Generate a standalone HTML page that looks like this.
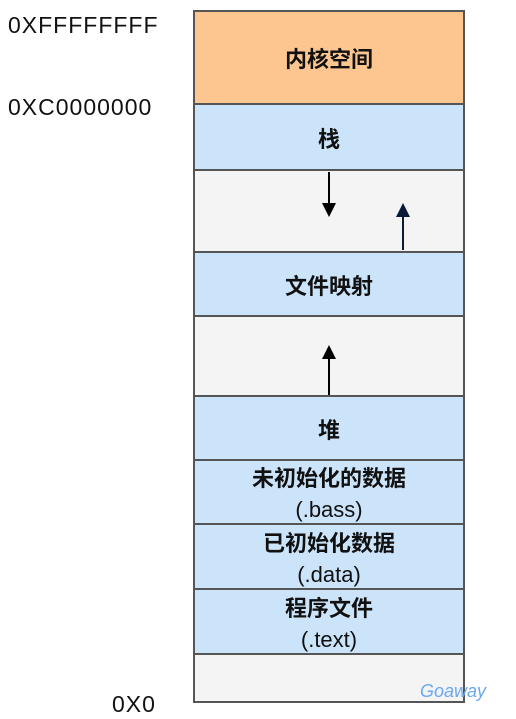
<!DOCTYPE html>
<html><head><meta charset="utf-8"><style>
body{margin:0;width:516px;height:719px;background:#fff;position:relative;overflow:hidden;font-family:"Liberation Sans","Noto Sans CJK SC",sans-serif}
.b{position:absolute;left:193px;width:272px;border:2px solid #555;box-sizing:border-box;display:flex;flex-direction:column;align-items:center;justify-content:center;font-weight:bold;font-size:22px;color:#111;line-height:31px;text-align:center;padding-top:4px}
.o{background:#fdc590}.bl{background:#cce4fa}.g{background:#f4f4f4}
.l{position:absolute;font-size:23px;color:#111;letter-spacing:1px}
</style></head><body>
<div class="l" style="left:8px;top:12px">0XFFFFFFFF</div>
<div class="l" style="left:8px;top:94px">0XC0000000</div>
<div class="l" style="left:112px;top:691px">0X0</div>
<div class="b o" style="top:10px;height:95px">内核空间</div>
<div class="b bl" style="top:103px;height:68px">栈</div>
<div class="b g" style="top:169px;height:84px"></div>
<div class="b bl" style="top:251px;height:66px">文件映射</div>
<div class="b g" style="top:315px;height:82px"></div>
<div class="b bl" style="top:395px;height:66px">堆</div>
<div class="b bl" style="top:459px;height:66px;font-weight:normal"><b>未初始化的数据</b><span>(.bass)</span></div>
<div class="b bl" style="top:523px;height:67px;font-weight:normal"><b>已初始化数据</b><span>(.data)</span></div>
<div class="b bl" style="top:588px;height:67px;font-weight:normal"><b>程序文件</b><span>(.text)</span></div>
<div class="b g" style="top:653px;height:50px"></div>
<svg width="516" height="719" style="position:absolute;left:0;top:0">
<line x1="329" y1="172" x2="329" y2="206" stroke="#000" stroke-width="2"/>
<polygon points="322,203 336,203 329,217" fill="#000"/>
<line x1="403" y1="250" x2="403" y2="214" stroke="#0a1a3a" stroke-width="2"/>
<polygon points="396,217 410,217 403,203" fill="#0a1a3a"/>
<line x1="329" y1="395" x2="329" y2="356" stroke="#000" stroke-width="2"/>
<polygon points="322,359 336,359 329,345" fill="#000"/>
<text x="420" y="697" font-family="Liberation Sans" font-style="italic" font-size="18" fill="#6aa8f0">Goaway</text>
</svg>
</body></html>
